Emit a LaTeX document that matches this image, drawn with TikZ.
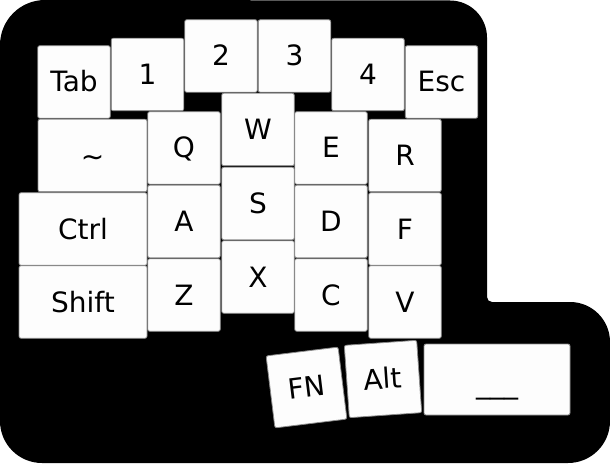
\documentclass[tikz,border=0pt]{standalone}
\usepackage{fontspec}
\setmainfont{DejaVu Sans}
\definecolor{keyfill}{HTML}{FDFDFD}
\definecolor{keyline}{HTML}{8A8A8A}
\tikzset{
  keycap/.style={draw=keyline, fill=keyfill, line width=0.8pt, rounded corners=2pt,
    minimum width=72.5pt, minimum height=72.5pt, inner sep=0pt,
    font=\fontsize{28}{30}\selectfont, text height=20pt, text depth=0pt},
  widekey/.style={keycap, minimum width=#1},
}
\begin{document}
\begin{tikzpicture}[x=1pt,y=1pt]
\useasboundingbox (0,0) rectangle (610,464);
% body
\fill[black] (0,419) arc[start angle=180,end angle=90,radius=45] -- (450,463.5)
  arc[start angle=90,end angle=0,radius=37] -- (487,167)
  arc[start angle=180,end angle=270,radius=5] -- (570,162)
  arc[start angle=90,end angle=0,radius=40] -- (610,43)
  arc[start angle=0,end angle=-90,radius=42] -- (42,1)
  arc[start angle=270,end angle=180,radius=42] -- cycle;
% number row
\node[keycap] (tab) at (74,382) {Tab};
\node[keycap] (k1) at (147.5,389.5) {1};
\node[keycap] (k2) at (221,408) {2};
\node[keycap] (k3) at (294.5,408) {3};
\node[keycap] (k4) at (368,389.5) {4};
\node[keycap] (esc) at (441.5,382) {Esc};
% top row
\node[widekey=109pt] (tilde) at (92.5,308.5) {\raisebox{-1pt}{\char"007E}};
\node[keycap] (q) at (184,316) {Q};
\node[keycap] (w) at (258,334.5) {W};
\node[keycap] (e) at (331,316) {E};
\node[keycap] (r) at (405,308.5) {R};
% home row
\node[widekey=128pt] (ctrl) at (83,235) {Ctrl};
\node[keycap] (a) at (184,242.5) {A};
\node[keycap] (s) at (258,260.5) {S};
\node[keycap] (d) at (331,242.5) {D};
\node[keycap] (f) at (405,235) {F};
% bottom row
\node[widekey=128pt] (shift) at (83,162) {Shift};
\node[keycap] (z) at (184,169) {Z};
\node[keycap] (x) at (258,187) {X};
\node[keycap] (c) at (331,169) {C};
\node[keycap] (v) at (405,162) {V};
% thumb cluster
\node[keycap, rotate=7] (fn) at (306.5,76.5) {FN};
\node[keycap, rotate=4] (alt) at (383,85) {Alt};
\node[widekey=146pt, minimum height=71pt] (space) at (497,84.5) {\raisebox{-4pt}{\_\_\_}};
\end{tikzpicture}
\end{document}
